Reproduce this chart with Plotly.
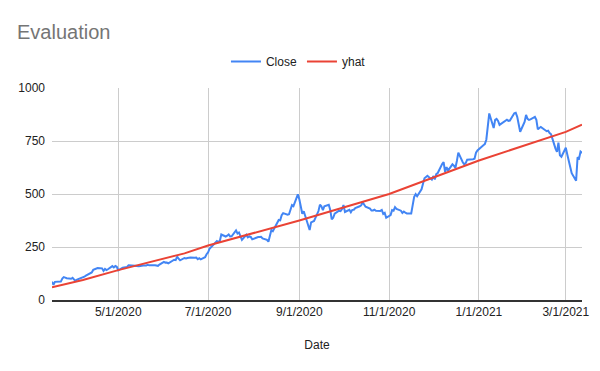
import plotly.graph_objects as go

close_dates = [
    "2020-03-17","2020-03-18","2020-03-19","2020-03-20","2020-03-23","2020-03-24","2020-03-25","2020-03-26","2020-03-27",
    "2020-03-30","2020-03-31","2020-04-01","2020-04-02","2020-04-03","2020-04-06","2020-04-07","2020-04-08","2020-04-09",
    "2020-04-13","2020-04-14","2020-04-15","2020-04-16","2020-04-17","2020-04-20","2020-04-21","2020-04-22","2020-04-23",
    "2020-04-24","2020-04-27","2020-04-28","2020-04-29","2020-04-30","2020-05-01","2020-05-04","2020-05-05","2020-05-06",
    "2020-05-07","2020-05-08","2020-05-11","2020-05-12","2020-05-13","2020-05-14","2020-05-15","2020-05-18","2020-05-19",
    "2020-05-20","2020-05-21","2020-05-22","2020-05-26","2020-05-27","2020-05-28","2020-05-29","2020-06-01","2020-06-02",
    "2020-06-03","2020-06-04","2020-06-05","2020-06-08","2020-06-09","2020-06-10","2020-06-11","2020-06-12","2020-06-15",
    "2020-06-16","2020-06-17","2020-06-18","2020-06-19","2020-06-22","2020-06-23","2020-06-24","2020-06-25","2020-06-26",
    "2020-06-29","2020-06-30","2020-07-01","2020-07-02","2020-07-06","2020-07-07","2020-07-08","2020-07-09","2020-07-10",
    "2020-07-13","2020-07-14","2020-07-15","2020-07-16","2020-07-17","2020-07-20","2020-07-21","2020-07-22","2020-07-23",
    "2020-07-24","2020-07-27","2020-07-28","2020-07-29","2020-07-30","2020-07-31","2020-08-03","2020-08-04","2020-08-05",
    "2020-08-06","2020-08-07","2020-08-10","2020-08-11","2020-08-12","2020-08-13","2020-08-14","2020-08-17","2020-08-18",
    "2020-08-19","2020-08-20","2020-08-21","2020-08-24","2020-08-25","2020-08-26","2020-08-27","2020-08-28","2020-08-31",
    "2020-09-01","2020-09-02","2020-09-03","2020-09-04","2020-09-08","2020-09-09","2020-09-10","2020-09-11","2020-09-14",
    "2020-09-15","2020-09-16","2020-09-17","2020-09-18","2020-09-21","2020-09-22","2020-09-23","2020-09-24","2020-09-25",
    "2020-09-28","2020-09-29","2020-09-30","2020-10-01","2020-10-02","2020-10-05","2020-10-06","2020-10-07","2020-10-08",
    "2020-10-09","2020-10-12","2020-10-13","2020-10-14","2020-10-15","2020-10-16","2020-10-19","2020-10-20","2020-10-21",
    "2020-10-22","2020-10-23","2020-10-26","2020-10-27","2020-10-28","2020-10-29","2020-10-30","2020-11-02","2020-11-03",
    "2020-11-04","2020-11-05","2020-11-06","2020-11-09","2020-11-10","2020-11-11","2020-11-12","2020-11-13","2020-11-16",
    "2020-11-17","2020-11-18","2020-11-19","2020-11-20","2020-11-23","2020-11-24","2020-11-25","2020-11-27","2020-11-30",
    "2020-12-01","2020-12-02","2020-12-03","2020-12-04","2020-12-07","2020-12-08","2020-12-09","2020-12-10","2020-12-11",
    "2020-12-14","2020-12-15","2020-12-16","2020-12-17","2020-12-18","2020-12-21","2020-12-22","2020-12-23","2020-12-24",
    "2020-12-28","2020-12-29","2020-12-30","2020-12-31","2021-01-04","2021-01-05","2021-01-06","2021-01-07","2021-01-08",
    "2021-01-11","2021-01-12","2021-01-13","2021-01-14","2021-01-15","2021-01-19","2021-01-20","2021-01-21","2021-01-22",
    "2021-01-25","2021-01-26","2021-01-27","2021-01-28","2021-01-29","2021-02-01","2021-02-02","2021-02-03","2021-02-04",
    "2021-02-05","2021-02-08","2021-02-09","2021-02-10","2021-02-11","2021-02-12","2021-02-16","2021-02-17","2021-02-18",
    "2021-02-19","2021-02-22","2021-02-23","2021-02-24","2021-02-25","2021-02-26","2021-03-01","2021-03-02","2021-03-03",
    "2021-03-04","2021-03-05","2021-03-08","2021-03-09","2021-03-10","2021-03-11","2021-03-12",
]
close_values = [
    86.0, 72.2, 85.5, 85.5, 86.9, 101.0, 107.8, 105.6, 102.9,
    100.4, 104.8, 96.3, 90.9, 96.0, 103.2, 109.1, 109.8, 114.6,
    130.2, 142.0, 146.0, 149.0, 150.8, 149.3, 137.3, 146.4, 141.1,
    145.0, 159.8, 153.8, 160.1, 156.4, 140.3, 152.2, 153.6, 156.5,
    156.0, 163.9, 162.3, 161.9, 158.2, 160.7, 159.8, 162.7, 161.6,
    163.1, 165.5, 163.4, 163.8, 164.0, 161.2, 167.0, 179.6, 176.3,
    176.6, 172.9, 177.1, 190.0, 188.1, 205.0, 194.6, 187.1, 198.2,
    196.4, 198.4, 200.8, 200.2, 198.9, 200.4, 192.2, 197.2, 191.9,
    201.9, 216.0, 223.9, 241.7, 274.3, 278.0, 273.2, 278.9, 308.9,
    299.4, 303.4, 309.2, 300.1, 300.2, 328.6, 313.7, 318.5, 302.6,
    283.4, 307.9, 295.3, 299.8, 297.5, 286.2, 297.0, 297.4, 297.0,
    297.9, 290.5, 283.7, 274.9, 311.0, 330.1, 324.2, 367.1, 377.4,
    375.7, 400.4, 410.0, 402.8, 404.7, 430.6, 447.8, 442.7, 498.3,
    475.1, 447.4, 407.0, 418.3, 330.2, 366.3, 371.3, 372.7, 419.6,
    449.8, 441.8, 423.4, 442.2, 449.4, 424.2, 380.4, 387.8, 407.3,
    421.2, 419.1, 429.0, 448.2, 415.1, 425.7, 414.0, 425.3, 425.9,
    434.0, 442.3, 446.7, 461.3, 448.9, 439.7, 430.8, 421.9, 422.6,
    425.8, 420.6, 420.3, 424.7, 406.0, 410.8, 388.0, 400.5, 423.9,
    421.0, 438.1, 430.0, 421.3, 410.4, 417.1, 411.8, 408.5, 408.1,
    441.6, 486.6, 499.3, 489.6, 521.9, 555.4, 574.0, 585.8, 567.6,
    584.8, 568.8, 593.4, 599.0, 641.8, 649.9, 604.5, 627.1, 610.0,
    639.8, 633.3, 622.8, 655.9, 695.0, 649.9, 640.3, 646.0, 661.8,
    663.7, 666.0, 694.8, 705.7, 729.8, 735.1, 756.0, 816.0, 880.0,
    811.2, 849.4, 854.4, 845.0, 826.2, 844.6, 850.5, 845.0, 846.6,
    880.8, 883.1, 864.2, 835.4, 793.5, 839.8, 872.8, 854.7, 850.0,
    852.2, 863.4, 849.5, 804.8, 811.7, 816.1, 796.2, 798.2, 787.4,
    781.3, 714.5, 698.8, 742.0, 682.2, 675.5, 718.4, 686.4, 653.2,
    621.4, 598.0, 563.0, 673.6, 668.1, 699.6, 693.7,
]

yhat_dates = ["2020-03-17", "2020-04-07", "2020-05-01", "2020-06-15", "2020-07-01",
              "2020-09-01", "2020-11-01", "2021-01-01", "2021-03-01", "2021-03-12"]
yhat_values = [60, 94, 141, 220, 257, 375, 500, 658, 793, 827]

tick_dates = ["2020-05-01", "2020-07-01", "2020-09-01", "2020-11-01", "2021-01-01", "2021-03-01"]
tick_labels = ["5/1/2020", "7/1/2020", "9/1/2020", "11/1/2020", "1/1/2021", "3/1/2021"]
y_ticks = [0, 250, 500, 750, 1000]

fig = go.Figure()
fig.add_trace(go.Scatter(x=close_dates, y=close_values, mode="lines", name="Close",
                         line=dict(color="#4285F4", width=2)))
fig.add_trace(go.Scatter(x=yhat_dates, y=yhat_values, mode="lines", name="yhat",
                         line=dict(color="#EA4335", width=2)))

fig.update_layout(
    width=600, height=371,
    margin=dict(l=52, r=18, t=88, b=71),
    paper_bgcolor="white", plot_bgcolor="white",
    font=dict(family="Liberation Sans, Arial, sans-serif", size=12, color="#222222"),
    title=dict(text="Evaluation", x=17/600, xref="container", xanchor="left",
               y=1 - 32/371, yref="container", yanchor="middle",
               font=dict(size=20, color="#757575", family="Liberation Sans, Arial, sans-serif")),
    legend=dict(orientation="h", x=0.465, xanchor="center", y=1.125, yanchor="middle",
                font=dict(size=12, color="#222222"), itemwidth=30),
    showlegend=True,
)
fig.update_xaxes(
    type="date", range=["2020-03-17", "2021-03-12"],
    tickvals=tick_dates, ticktext=tick_labels,
    showgrid=True, gridcolor="#cccccc", gridwidth=1,
    showline=True, linecolor="#333333", linewidth=1.5,
    ticks="", zeroline=False,
    title=dict(text="Date", standoff=22, font=dict(size=12, color="#222222")),
)
fig.update_yaxes(
    range=[0, 1000], tickvals=y_ticks,
    showgrid=True, gridcolor="#cccccc", gridwidth=1,
    zeroline=False, showline=False, ticks="",
    ticklabelstandoff=6,
)

fig.write_html("out.html")
